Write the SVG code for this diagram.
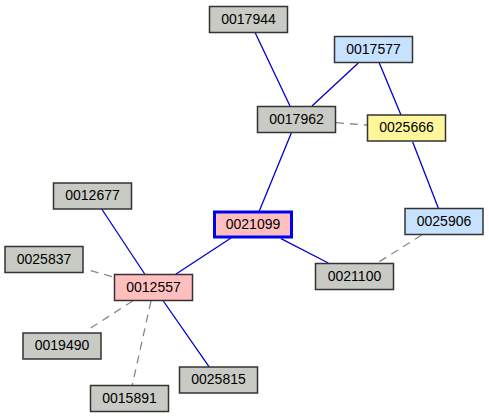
<svg xmlns="http://www.w3.org/2000/svg" width="489" height="419" viewBox="0 0 489 419">
<style>
.n rect{stroke:#333;stroke-width:1.5}
.g rect{fill:#c8cac4}
.p rect{fill:#ffbfbf}
.b rect{fill:#c6e2ff}
.y rect{fill:#fff59a}
.n text{font-family:"Liberation Sans",Arial,sans-serif;font-size:14px;fill:#000;text-anchor:middle}
.s{stroke:#0000cc;stroke-width:1.3;fill:none}
.d{stroke:#888;stroke-width:1.3;stroke-dasharray:8,6;fill:none}
</style>
<rect width="489" height="419" fill="#fff"/>
<g id="edges">
<line class="s" x1="255.3" y1="33" x2="290" y2="106"/>
<line class="s" x1="358.3" y1="63" x2="312" y2="106"/>
<line class="s" x1="379.3" y1="63" x2="401" y2="115"/>
<line class="d" x1="336" y1="122.7" x2="367" y2="125"/>
<line class="s" x1="412.7" y1="142" x2="438.3" y2="208"/>
<line class="s" x1="291.3" y1="133" x2="259.3" y2="211"/>
<line class="s" x1="231" y1="238" x2="175.7" y2="274.3"/>
<line class="s" x1="281" y1="238.7" x2="328.3" y2="263"/>
<line class="d" x1="421.7" y1="235" x2="377.3" y2="263"/>
<line class="s" x1="101.7" y1="209" x2="144.7" y2="274"/>
<line class="d" x1="90.7" y1="270.7" x2="114.3" y2="277.3"/>
<line class="d" x1="132.7" y1="301" x2="86" y2="331"/>
<line class="d" x1="151" y1="301" x2="132.3" y2="385"/>
<line class="s" x1="163.3" y1="301" x2="209" y2="366.7"/>
</g>
<g id="n0017944" class="n g"><rect x="209.5" y="6.5" width="78" height="26"/><text x="248.5" y="23.8">0017944</text></g>
<g id="n0017577" class="n b"><rect x="334.5" y="36.5" width="78" height="26"/><text x="373.5" y="53.8">0017577</text></g>
<g id="n0017962" class="n g"><rect x="257.5" y="106.5" width="78" height="26"/><text x="296.5" y="123.8">0017962</text></g>
<g id="n0025666" class="n y"><rect x="367.5" y="115" width="78" height="26"/><text x="406.5" y="132.3">0025666</text></g>
<g id="n0025906" class="n b"><rect x="405" y="208.5" width="78" height="26"/><text x="444" y="225.8">0025906</text></g>
<g id="n0021099" class="n p"><rect x="214.5" y="212" width="77" height="25" style="stroke:#0000ee;stroke-width:3"/><text x="253" y="229">0021099</text></g>
<g id="n0021100" class="n g"><rect x="315.5" y="263.5" width="78" height="26"/><text x="354.5" y="280.8">0021100</text></g>
<g id="n0012677" class="n g"><rect x="53.5" y="183" width="78" height="26"/><text x="92.5" y="200.3">0012677</text></g>
<g id="n0025837" class="n g"><rect x="5" y="246.5" width="78" height="26"/><text x="44" y="263.8">0025837</text></g>
<g id="n0012557" class="n p"><rect x="114.5" y="274.5" width="78" height="26"/><text x="153.5" y="291.8">0012557</text></g>
<g id="n0019490" class="n g"><rect x="23" y="333" width="78" height="26"/><text x="62" y="350.3">0019490</text></g>
<g id="n0025815" class="n g"><rect x="179.5" y="367" width="78" height="26"/><text x="218.5" y="384.3">0025815</text></g>
<g id="n0015891" class="n g"><rect x="90.5" y="385.5" width="78" height="26"/><text x="129.5" y="402.8">0015891</text></g>
</svg>
